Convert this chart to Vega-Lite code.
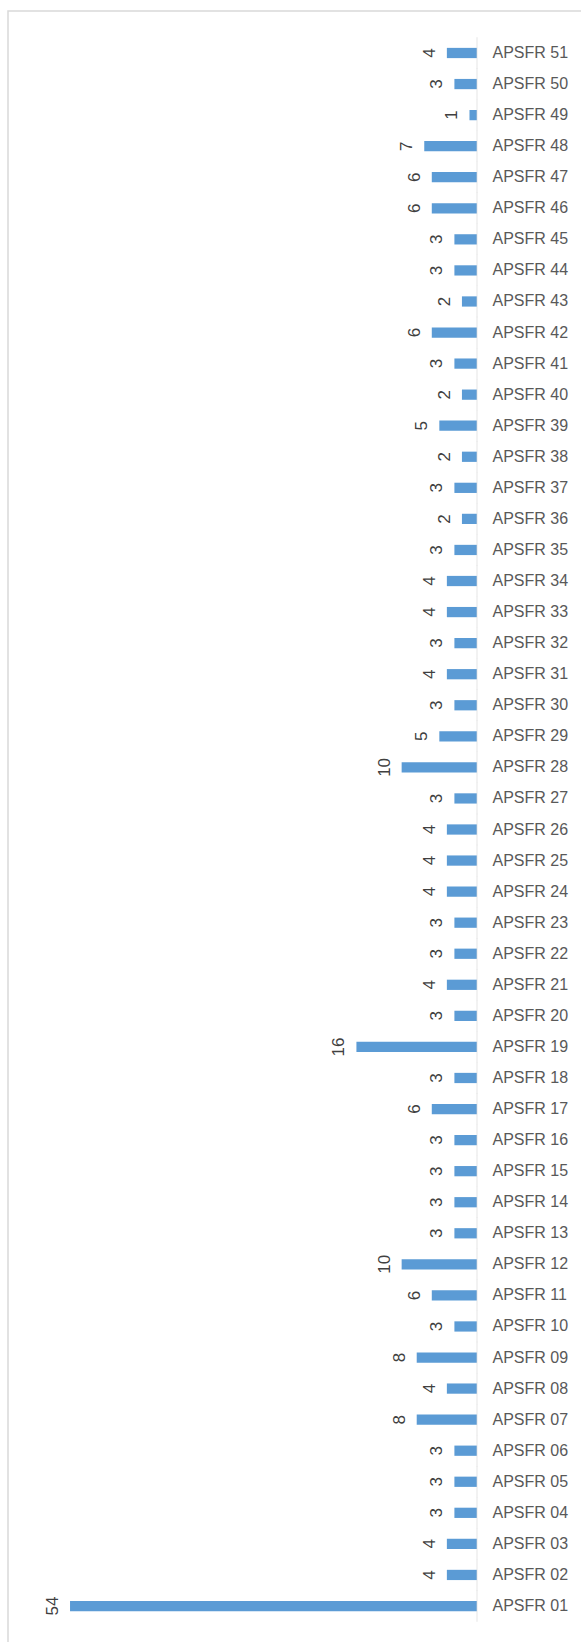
{
  "$schema": "https://vega.github.io/schema/vega-lite/v6.json",
  "autosize": "none",
  "padding": {"left": 8, "top": 11, "right": 0, "bottom": 0},
  "width": 600,
  "height": 1637,
  "background": "white",
  "config": {
    "view": {"stroke": "#d9d9d9", "strokeWidth": 1.5},
    "font": "Liberation Sans"
  },
  "data": {
    "values": [
      {"name": "APSFR 01", "value": 54}, {"name": "APSFR 02", "value": 4}, {"name": "APSFR 03", "value": 4},
      {"name": "APSFR 04", "value": 3}, {"name": "APSFR 05", "value": 3}, {"name": "APSFR 06", "value": 3},
      {"name": "APSFR 07", "value": 8}, {"name": "APSFR 08", "value": 4}, {"name": "APSFR 09", "value": 8},
      {"name": "APSFR 10", "value": 3}, {"name": "APSFR 11", "value": 6}, {"name": "APSFR 12", "value": 10},
      {"name": "APSFR 13", "value": 3}, {"name": "APSFR 14", "value": 3}, {"name": "APSFR 15", "value": 3},
      {"name": "APSFR 16", "value": 3}, {"name": "APSFR 17", "value": 6}, {"name": "APSFR 18", "value": 3},
      {"name": "APSFR 19", "value": 16}, {"name": "APSFR 20", "value": 3}, {"name": "APSFR 21", "value": 4},
      {"name": "APSFR 22", "value": 3}, {"name": "APSFR 23", "value": 3}, {"name": "APSFR 24", "value": 4},
      {"name": "APSFR 25", "value": 4}, {"name": "APSFR 26", "value": 4}, {"name": "APSFR 27", "value": 3},
      {"name": "APSFR 28", "value": 10}, {"name": "APSFR 29", "value": 5}, {"name": "APSFR 30", "value": 3},
      {"name": "APSFR 31", "value": 4}, {"name": "APSFR 32", "value": 3}, {"name": "APSFR 33", "value": 4},
      {"name": "APSFR 34", "value": 4}, {"name": "APSFR 35", "value": 3}, {"name": "APSFR 36", "value": 2},
      {"name": "APSFR 37", "value": 3}, {"name": "APSFR 38", "value": 2}, {"name": "APSFR 39", "value": 5},
      {"name": "APSFR 40", "value": 2}, {"name": "APSFR 41", "value": 3}, {"name": "APSFR 42", "value": 6},
      {"name": "APSFR 43", "value": 2}, {"name": "APSFR 44", "value": 3}, {"name": "APSFR 45", "value": 3},
      {"name": "APSFR 46", "value": 6}, {"name": "APSFR 47", "value": 6}, {"name": "APSFR 48", "value": 7},
      {"name": "APSFR 49", "value": 1}, {"name": "APSFR 50", "value": 3}, {"name": "APSFR 51", "value": 4}
    ]
  },
  "encoding": {
    "y": {
      "field": "name",
      "type": "nominal",
      "sort": "descending",
      "scale": {"paddingInner": 0, "paddingOuter": 0.852},
      "axis": {
        "orient": "right",
        "offset": -131,
        "title": null,
        "domain": false,
        "ticks": false,
        "grid": false,
        "labelPadding": 15,
        "labelFont": "Liberation Sans",
        "labelFontSize": 16,
        "labelColor": "#595959"
      }
    },
    "x": {
      "field": "value",
      "type": "quantitative",
      "scale": {"domain": [-17.38, 62.23], "reverse": true, "nice": false, "zero": false},
      "axis": null
    }
  },
  "layer": [
    {
      "mark": {"type": "bar", "color": "#5b9bd5", "height": {"band": 0.33}}
    },
    {
      "mark": {"type": "tick", "size": 31.4, "thickness": 1, "color": "#d9d9d9"},
      "encoding": {"x": {"datum": 0}}
    },
    {
      "mark": {"type": "text", "angle": 270, "align": "center", "baseline": "bottom", "dy": -8, "fontSize": 17, "color": "#404040", "font": "Liberation Sans"},
      "encoding": {
        "text": {"field": "value", "type": "quantitative"}
      }
    }
  ]
}
